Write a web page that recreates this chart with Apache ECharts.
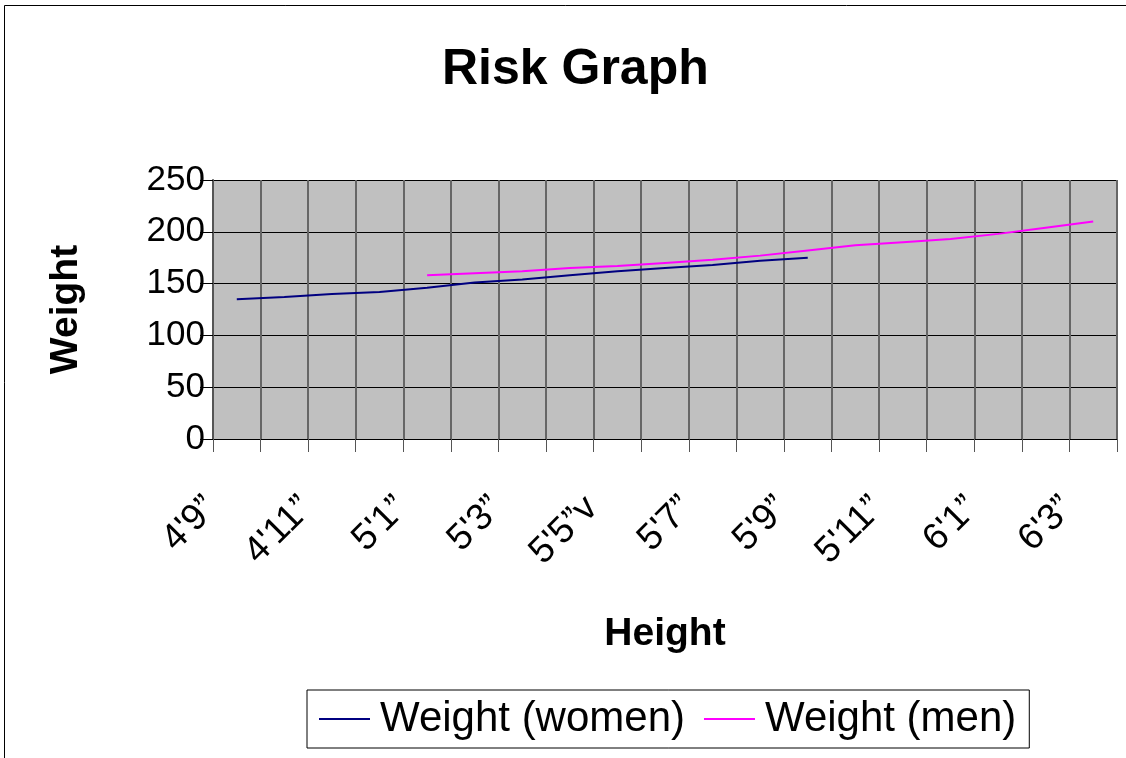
<!DOCTYPE html>
<html>
<head>
<meta charset="utf-8">
<script src="https://cdn.jsdelivr.net/npm/echarts@6/dist/echarts.min.js"></script>
<style>
html,body{margin:0;padding:0;background:#fff;}
#chart{width:1126px;height:758px;}
</style>
</head>
<body>
<div id="chart"></div>
<script>
const heights = ["4'9”","4'10”","4'11”","5'0”","5'1”","5'2”","5'3”","5'4”","5'5”v","5'6”","5'7”","5'8”","5'9”","5'10”","5'11”","6'0”","6'1”","6'2”","6'3”"];
const weightWomen = [135, 137, 140, 142, 146, 151, 154, 158, 162, 165, 168, 172, 175, null, null, null, null, null, null];
const weightMen = [null, null, null, null, 158, 160, 162, 165, 167, 170, 173, 177, 182, 187, 190, 193, 198, 204, 210];
const yTicks = [0, 50, 100, 150, 200, 250];

const FONT = "'Liberation Sans', Arial, sans-serif";
const chart = echarts.init(document.getElementById('chart'), null, {renderer: 'canvas'});
chart.setOption({
  animation: false,
  backgroundColor: '#fff',
  graphic: [{
    type: 'rect', silent: true, z: -10,
    shape: {x: 4.5, y: 5.5, width: 1200, height: 800},
    style: {fill: 'none', stroke: '#000', lineWidth: 1}
  }],
  title: {
    text: 'Risk Graph', left: 437, top: 40,
    textStyle: {fontFamily: FONT, fontSize: 50, fontWeight: 'bold', color: '#000'}
  },
  legend: {
    left: 307, top: 690,
    padding: [8, 13, 8, 12],
    borderColor: '#000', borderWidth: 1,
    icon: 'rect',
    itemWidth: 51, itemHeight: 2, itemGap: 19,
    textStyle: {fontFamily: FONT, fontSize: 42, color: '#000', padding: [0, 0, 0, 5]},
    data: ['Weight (women)', 'Weight (men)']
  },
  grid: {left: 213, right: 9, top: 180, bottom: 319, containLabel: false,
         show: true, backgroundColor: '#C0C0C0', borderWidth: 0},
  xAxis: {
    type: 'category', data: heights, boundaryGap: true,
    name: 'Height', nameLocation: 'middle', nameGap: 176,
    nameTextStyle: {fontFamily: FONT, fontSize: 39, fontWeight: 'bold', color: '#000'},
    axisLine: {show: true, lineStyle: {color: '#000', width: 1}},
    axisTick: {show: true, length: 13, interval: 0, alignWithLabel: false, lineStyle: {color: '#555', width: 1}},
    axisLabel: {interval: 1, rotate: 45, margin: 38, padding: [0, 36, 0, 0],
                fontFamily: FONT, fontSize: 37, color: '#000'},
    splitLine: {show: true, interval: 0, lineStyle: {color: '#666', width: 2}}
  },
  yAxis: {
    type: 'value', min: yTicks[0], max: yTicks[yTicks.length - 1], interval: 50,
    name: 'Weight', nameLocation: 'middle', nameGap: 127, nameRotate: 90,
    nameTextStyle: {fontFamily: FONT, fontSize: 39, fontWeight: 'bold', color: '#000'},
    axisLine: {show: true, lineStyle: {color: '#555', width: 2}},
    axisTick: {show: true, length: 13, lineStyle: {color: '#000', width: 1}},
    axisLabel: {margin: 8, padding: [12, 0, 0, 0], fontFamily: FONT, fontSize: 35, color: '#000'},
    splitLine: {show: true, lineStyle: {color: '#000', width: 1}}
  },
  series: [
    {name: 'Weight (women)', type: 'line', data: weightWomen, symbol: 'none', showSymbol: false,
     connectNulls: false, lineStyle: {color: '#000080', width: 2}, itemStyle: {color: '#000080'}},
    {name: 'Weight (men)', type: 'line', data: weightMen, symbol: 'none', showSymbol: false,
     connectNulls: false, lineStyle: {color: '#FF00FF', width: 2}, itemStyle: {color: '#FF00FF'}}
  ]
});
</script>
</body>
</html>
